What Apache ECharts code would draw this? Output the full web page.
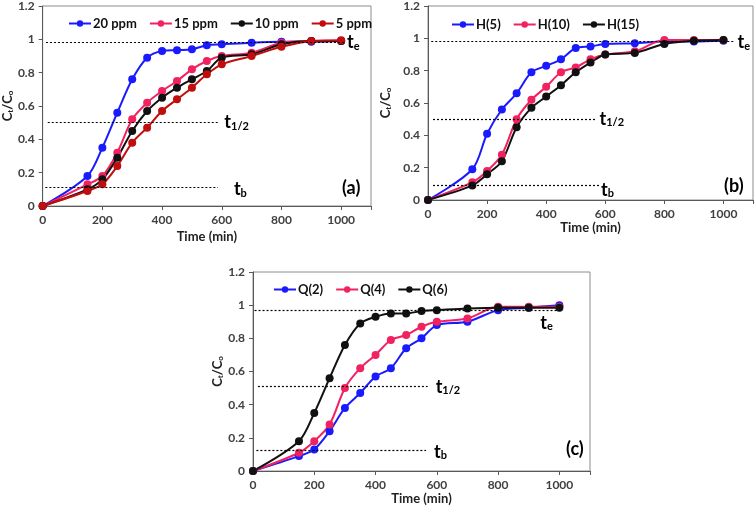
<!DOCTYPE html>
<html>
<head>
<meta charset="utf-8">
<script src="https://cdn.jsdelivr.net/npm/echarts@6/dist/echarts.min.js"></script>
<style>
  html, body { margin: 0; padding: 0; background: #fff; }
  #chart { width: 756px; height: 508px; }
</style>
</head>
<body>
<div id="chart"></div>
<script>
// sampling times (min)
const time = [0, 150, 200, 250, 300, 350, 400, 450, 500, 550, 600, 700, 800, 900, 1000];

// (a) initial concentration
const namesA = ['20 ppm', '15 ppm', '10 ppm', '5 ppm'];
const a20 = [0, 0.18, 0.35, 0.56, 0.76, 0.89, 0.93, 0.935, 0.94, 0.965, 0.97, 0.98, 0.985, 0.985, 0.99];
const a15 = [0, 0.13, 0.18, 0.32, 0.52, 0.62, 0.69, 0.75, 0.82, 0.87, 0.90, 0.92, 0.98, 0.99, 0.99];
const a10 = [0, 0.10, 0.16, 0.29, 0.45, 0.57, 0.65, 0.71, 0.76, 0.81, 0.89, 0.91, 0.97, 0.99, 0.99];
const a5 = [0, 0.09, 0.13, 0.24, 0.38, 0.47, 0.57, 0.64, 0.71, 0.79, 0.85, 0.90, 0.955, 0.99, 0.995];

// (b) bed height
const namesB = ['H(5)', 'H(10)', 'H(15)'];
const h5 = [0, 0.19, 0.41, 0.56, 0.66, 0.79, 0.83, 0.87, 0.94, 0.95, 0.965, 0.97, 0.98, 0.98, 0.985];
const h10 = [0, 0.11, 0.18, 0.28, 0.50, 0.62, 0.70, 0.79, 0.82, 0.87, 0.90, 0.92, 0.99, 0.99, 0.99];
const h15 = [0, 0.09, 0.16, 0.24, 0.45, 0.57, 0.64, 0.71, 0.79, 0.85, 0.90, 0.91, 0.965, 0.985, 0.99];

// (c) flow rate
const namesC = ['Q(2)', 'Q(4)', 'Q(6)'];
const q2 = [0, 0.09, 0.13, 0.24, 0.38, 0.47, 0.57, 0.62, 0.74, 0.80, 0.88, 0.90, 0.97, 0.985, 1.0];
const q4 = [0, 0.11, 0.18, 0.28, 0.50, 0.62, 0.70, 0.79, 0.82, 0.87, 0.90, 0.92, 0.99, 0.99, 0.99];
const q6 = [0, 0.18, 0.35, 0.56, 0.76, 0.89, 0.93, 0.95, 0.95, 0.965, 0.97, 0.98, 0.985, 0.985, 0.985];

// dotted reference levels: te, t1/2, tb  (y value, x start, x end)
const levelsA = [0.98, 0.50, 0.11];
const spansA = [[11, 1013], [17, 592], [9, 587]];
const levelsB = [0.98, 0.50, 0.09];
const spansB = [[11, 1034], [17, 567], [17, 579]];
const levelsC = [0.97, 0.51, 0.125];
const spansC = [[5, 1005], [16, 570], [11, 565]];

const BLUE = '#1a1aff', PINK = '#f2215f', BLACK = '#111111', RED = '#c00d0d';
const FONT = 'Lato, "Open Sans", sans-serif';

const chart = echarts.init(document.getElementById('chart'));

const grids = [
  { left: 40, top: 5, width: 331, height: 201 },
  { left: 428, top: 5, width: 325, height: 195 },
  { left: 253, top: 272, width: 337, height: 199 }
];
const xNameGap = [24, 21, 21];
const yNameGap = [26, 36, 26];

const tRich = {
  t: { fontSize: 18, lineHeight: 18, fontWeight: 'bold', fontFamily: FONT, color: '#000' },
  s: { fontSize: 11, lineHeight: 11, fontWeight: 'bold', fontFamily: FONT, color: '#000', verticalAlign: 'bottom' }
};

function xAxis (i) {
  return {
    type: 'value', gridIndex: i, min: 0, max: 1100, interval: 200,
    name: 'Time (min)', nameLocation: 'middle', nameGap: xNameGap[i],
    nameTextStyle: { fontFamily: FONT, fontWeight: 'bold', fontSize: 13, color: '#222' },
    axisLine: { show: true, onZero: false, lineStyle: { color: '#595959', width: 1 } },
    axisTick: { show: true, length: 4, lineStyle: { color: '#595959' } },
    axisLabel: {
      fontFamily: FONT, fontWeight: 'bold', fontSize: 12, color: '#404040', margin: 8,
      formatter: v => (v % 200 === 0 ? String(v) : '')
    },
    splitLine: { show: false }
  };
}

function yAxis (i) {
  return {
    type: 'value', gridIndex: i, min: 0, max: 1.2, interval: 0.2,
    name: '{c|C}{s|t}{c|/C}{s|o}', nameLocation: 'middle', nameGap: yNameGap[i],
    nameTextStyle: {
      rich: {
        c: { fontFamily: FONT, fontWeight: 'bold', fontSize: 13, color: '#222' },
        s: { fontFamily: FONT, fontWeight: 'bold', fontSize: 8, color: '#222', verticalAlign: 'bottom' }
      }
    },
    axisLine: { show: true, onZero: false, lineStyle: { color: '#595959', width: 1 } },
    axisTick: { show: true, length: 4, lineStyle: { color: '#595959' } },
    axisLabel: { fontFamily: FONT, fontWeight: 'bold', fontSize: 12, color: '#404040', margin: 8 },
    splitLine: { show: false }
  };
}

function pairs (ys) {
  return time.map((t, k) => [t, ys[k]]);
}

// label settings for te, t1/2, tb in each panel
const refLabels = [
  [
    { text: '{t|t}{s|e}', position: 'end', distance: 2, pad: [0, 0, 0, 0] },
    { text: '{t|t}{s|1/2}', position: 'end', distance: 5, pad: [0, 0, 0, 0] },
    { text: '{t|t}{s|b}', position: 'end', distance: 16, pad: [4, 0, 0, 0] }
  ],
  [
    { text: '{t|t}{s|e}', position: 'end', distance: 4, pad: [2, 0, 0, 0] },
    { text: '{t|t}{s|1/2}', position: 'end', distance: 4, pad: [0, 0, 0, 0] },
    { text: '{t|t}{s|b}', position: 'end', distance: 2, pad: [10, 0, 0, 0] }
  ],
  [
    { text: '{t|t}{s|e}', position: 'insideEndBottom', distance: 4, pad: [0, 4, 0, 0] },
    { text: '{t|t}{s|1/2}', position: 'end', distance: 8, pad: [2, 0, 0, 0] },
    { text: '{t|t}{s|b}', position: 'end', distance: 8, pad: [4, 0, 0, 0] }
  ]
];

function refLines (i, levels, spans) {
  return {
    silent: true,
    symbol: 'none',
    animation: false,
    lineStyle: { type: [2, 2], color: '#000', width: 1.2 },
    data: levels.map((y, k) => [
      {
        coord: [spans[k][0], y],
        label: {
          show: true,
          position: refLabels[i][k].position,
          distance: refLabels[i][k].distance,
          formatter: refLabels[i][k].text,
          padding: refLabels[i][k].pad,
          rich: tRich
        }
      },
      { coord: [spans[k][1], y] }
    ])
  };
}

function line (name, i, ys, color) {
  return {
    name: name, type: 'line', xAxisIndex: i, yAxisIndex: i,
    data: pairs(ys),
    smooth: 0.3,
    symbol: 'circle', symbolSize: 8,
    color: color,
    lineStyle: { width: 2, color: color },
    itemStyle: { color: color },
    emphasis: { disabled: true }
  };
}

const series = [
  line(namesA[0], 0, a20, BLUE),
  line(namesA[1], 0, a15, PINK),
  line(namesA[2], 0, a10, BLACK),
  line(namesA[3], 0, a5, RED),
  line(namesB[0], 1, h5, BLUE),
  line(namesB[1], 1, h10, PINK),
  line(namesB[2], 1, h15, BLACK),
  line(namesC[0], 2, q2, BLUE),
  line(namesC[1], 2, q4, PINK),
  line(namesC[2], 2, q6, BLACK)
];
series[0].markLine = refLines(0, levelsA, spansA);
series[4].markLine = refLines(1, levelsB, spansB);
series[7].markLine = refLines(2, levelsC, spansC);

const legendBase = {
  orient: 'horizontal', itemWidth: 22, itemHeight: 8, itemGap: 12,
  textStyle: { fontFamily: FONT, fontWeight: 'bold', fontSize: 13, color: '#111', padding: [0, 0, 0, -3] },
  selectedMode: false
};

const panelText = (txt, x, y) => ({
  type: 'text', left: x, top: y,
  style: { text: txt, fontFamily: FONT, fontWeight: 'bold', fontSize: 18, fill: '#000' }
});

chart.setOption({
  animation: false,
  backgroundColor: '#fff',
  grid: grids.map(g => Object.assign({ show: true, borderColor: '#8c8c8c', borderWidth: 1, backgroundColor: 'transparent' }, g)),
  xAxis: [xAxis(0), xAxis(1), xAxis(2)],
  yAxis: [yAxis(0), yAxis(1), yAxis(2)],
  legend: [
    Object.assign({ left: 63, top: 12, data: namesA }, legendBase),
    Object.assign({ left: 446, top: 13, data: namesB }, legendBase),
    Object.assign({ left: 268, top: 278, data: namesC }, legendBase)
  ],
  tooltip: { show: false },
  graphic: [
    panelText('(a)', 342, 179),
    panelText('(b)', 724, 177),
    panelText('(c)', 566, 440)
  ],
  series: series
});
</script>
</body>
</html>
